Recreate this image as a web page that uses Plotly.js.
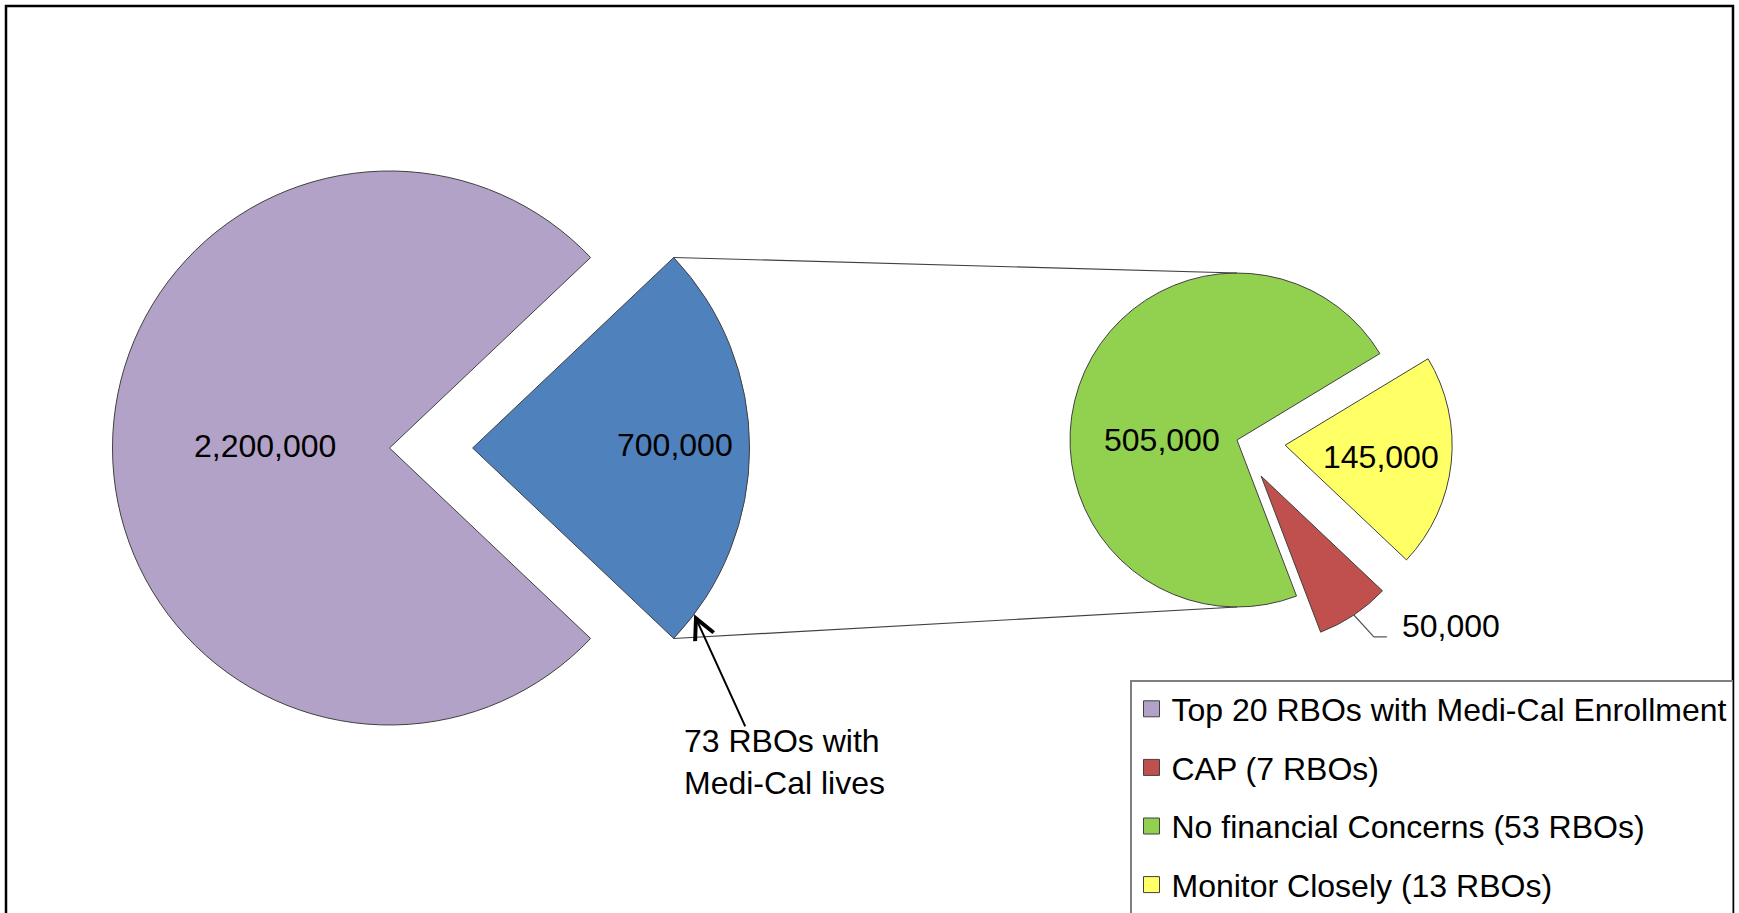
<!DOCTYPE html>
<html><head><meta charset="utf-8">
<script src="https://cdn.plot.ly/plotly-3.0.1.min.js"></script>
<style>html,body{margin:0;padding:0;background:#fff}#chart{width:1739px;height:913px}</style>
</head><body><div id="chart"></div>
<script>
// ---------------- data ----------------
const mainLabels = ['Top 20 RBOs with Medi-Cal Enrollment', '73 RBOs with Medi-Cal lives'];
const mainValues = [2200000, 700000];
const detailLabels = ['CAP (7 RBOs)', 'No financial Concerns (53 RBOs)', 'Monitor Closely (13 RBOs)'];
const detailValues = [50000, 505000, 145000];
const legendLabels = ['Top 20 RBOs with Medi-Cal Enrollment', 'CAP (7 RBOs)', 'No financial Concerns (53 RBOs)', 'Monitor Closely (13 RBOs)'];
const calloutLines = ['73 RBOs with', 'Medi-Cal lives'];

// ---------------- styles ----------------
const mainColors = ['#B3A2C7', '#4F81BD'];
const detailColors = ['#C0504D', '#92D050', '#FFFF66'];
const legendColors = ['#B3A2C7', '#C0504D', '#92D050', '#FFFF66'];
const W = 1739, H = 913;
const FONT = 'Liberation Sans, Arial, Helvetica, sans-serif';
const FS = 32;
const P1 = {cx: 389.5, cy: 448, r: 277, pulls: [0, 0.30]};
const P2 = {cx: 1237, cy: 440, r: 167, pulls: [0.26, 0, 0.29], rotation: 133.4};

const sum = a => a.reduce((s, v) => s + v, 0);
P1.rotation = 90 + 180 * mainValues[1] / sum(mainValues);

function domainOf(p) {
  const h = p.r * (1 + Math.max(...p.pulls));
  return {x: [(p.cx - h) / W, (p.cx + h) / W], y: [1 - (p.cy + h) / H, 1 - (p.cy - h) / H]};
}
function dir(deg) { const t = deg * Math.PI / 180; return [Math.sin(t), -Math.cos(t)]; }
function slices(values, p) {
  const tot = sum(values); let a = p.rotation;
  return values.map((v, i) => {
    const s = a, e = a + 360 * v / tot; a = e;
    const mid = (s + e) / 2, d = dir(mid);
    return {start: s, end: e, mid, d,
      vx: p.cx + p.pulls[i] * p.r * d[0], vy: p.cy + p.pulls[i] * p.r * d[1]};
  });
}
const X = px => px / W, Y = py => 1 - py / H;
const fmt = v => String(v).replace(/\B(?=(\d{3})+(?!\d))/g, ',');

const S1 = slices(mainValues, P1);
const S2 = slices(detailValues, P2);

// ---------------- traces ----------------
const traces = [
  {type: 'pie', values: mainValues, labels: mainLabels, sort: false, direction: 'clockwise',
   rotation: P1.rotation, pull: P1.pulls, domain: domainOf(P1), textinfo: 'none',
   marker: {colors: mainColors, line: {color: '#404040', width: 1}}, showlegend: false, hoverinfo: 'label+value'},
  {type: 'pie', values: detailValues, labels: detailLabels, sort: false, direction: 'clockwise',
   rotation: P2.rotation, pull: P2.pulls, domain: domainOf(P2), textinfo: 'none',
   marker: {colors: detailColors, line: {color: '#404040', width: 1}}, showlegend: false, hoverinfo: 'label+value'}
];
legendLabels.forEach((n, i) => traces.push({
  type: 'scatter', x: [null], y: [null], mode: 'markers', name: n, legendgroup: 'g' + i,
  marker: {symbol: 'square', size: 16, color: legendColors[i], line: {color: '#404040', width: 1}},
  hoverinfo: 'skip', showlegend: true
}));

// ---------------- geometry-derived annotations ----------------
const purple = S1[0], blue = S1[1];
const red = S2[0], green = S2[1], yellow = S2[2];
const annFont = {family: FONT, size: FS, color: '#000'};
const ann = [];
function labelAt(x, y, text, extra) {
  ann.push(Object.assign({xref: 'paper', yref: 'paper', x: X(x), y: Y(y), text, showarrow: false,
    font: annFont, xanchor: 'center', yanchor: 'middle'}, extra || {}));
}
labelAt(purple.vx + 0.45 * P1.r * purple.d[0], purple.vy + 0.45 * P1.r * purple.d[1] - 2, fmt(mainValues[0]));
labelAt(blue.vx + 0.73 * P1.r * blue.d[0], blue.vy + 0.73 * P1.r * blue.d[1] - 3, fmt(mainValues[1]));
labelAt(green.vx - 0.45 * P2.r, green.vy, fmt(detailValues[1]));
labelAt(yellow.vx + 0.58 * P2.r * yellow.d[0], yellow.vy + 0.58 * P2.r * yellow.d[1] + 2, fmt(detailValues[2]));

// red outside label with leader
const redArc = [red.vx + P2.r * red.d[0], red.vy + P2.r * red.d[1]];
const elbow = [redArc[0] + 20, redArc[1] + 22];
const lend = [elbow[0] + 13, elbow[1]];
labelAt(lend[0] + 13, elbow[1] - 11, fmt(detailValues[0]), {xanchor: 'left'});

// callout arrow to blue slice
const headA = blue.end - 6.55;
const hd = dir(headA);
const head = [blue.vx + P1.r * hd[0], blue.vy + P1.r * hd[1]];
const tail = [head[0] + 52, head[1] + 114];
ann.push({xref: 'paper', yref: 'paper', x: X(head[0]), y: Y(head[1]), text: ' ', font: {size: 1},
  showarrow: true, ax: tail[0] - head[0], ay: tail[1] - head[1], arrowhead: 5, arrowsize: 2,
  arrowwidth: 2, arrowcolor: '#000', standoff: 0});
labelAt(tail[0] - 64, tail[1] + 34, calloutLines.join('<br>'), {xanchor: 'left', align: 'left'});

// connector lines from exploded blue slice to second pie
const bTop = dir(blue.start), bBot = dir(blue.end);
const topV = [blue.vx + P1.r * bTop[0], blue.vy + P1.r * bTop[1]];
const botV = [blue.vx + P1.r * bBot[0], blue.vy + P1.r * bBot[1]];
const gTop = [P2.cx, P2.cy - P2.r], gBot = [P2.cx, P2.cy + P2.r];
const lineStyle = {color: '#404040', width: 1.2};
const shapes = [
  {type: 'line', xref: 'paper', yref: 'paper', x0: X(topV[0]), y0: Y(topV[1]), x1: X(gTop[0]), y1: Y(gTop[1]), line: lineStyle},
  {type: 'line', xref: 'paper', yref: 'paper', x0: X(botV[0]), y0: Y(botV[1]), x1: X(gBot[0]), y1: Y(gBot[1]), line: lineStyle},
  {type: 'path', xref: 'paper', yref: 'paper',
   path: `M ${X(redArc[0])} ${Y(redArc[1])} L ${X(elbow[0])} ${Y(elbow[1])} L ${X(lend[0])} ${Y(lend[1])}`,
   line: {color: '#595959', width: 1.2}},
  {type: 'rect', xref: 'paper', yref: 'paper', x0: X(6), x1: X(1733), y0: Y(980), y1: Y(6),
   line: {color: '#000', width: 2.5}, fillcolor: 'rgba(0,0,0,0)'}
];

const layout = {
  width: W, height: H,
  margin: {l: 0, r: 0, t: 0, b: 0, autoexpand: false},
  paper_bgcolor: '#ffffff', plot_bgcolor: 'rgba(0,0,0,0)',
  font: {family: FONT, color: '#000'},
  xaxis: {visible: false}, yaxis: {visible: false},
  showlegend: true,
  legend: {x: X(1130), y: Y(680), xanchor: 'left', yanchor: 'top', bgcolor: '#ffffff',
    bordercolor: '#7f7f7f', borderwidth: 1.5, font: {family: FONT, size: FS, color: '#000'},
    traceorder: 'grouped', tracegroupgap: 14},
  shapes, annotations: ann
};
Plotly.newPlot('chart', traces, layout, {staticPlot: true, displayModeBar: false});
</script>
</body></html>
